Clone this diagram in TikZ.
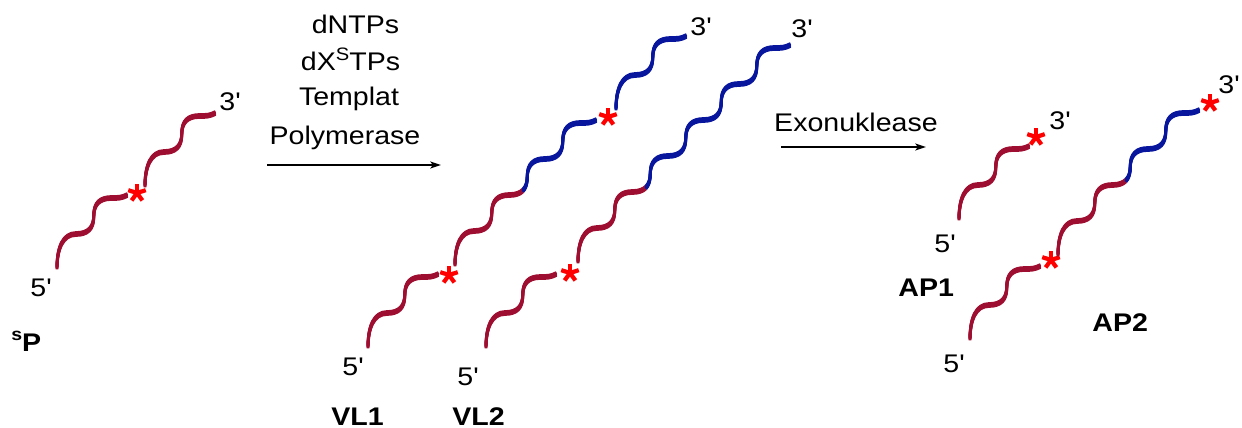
\documentclass[tikz,border=0pt]{standalone}
\usepackage{fontspec}
\newfontfamily\arialf{Liberation Sans}
\usetikzlibrary{arrows.meta}

\definecolor{strandred}{RGB}{158,14,48}
\definecolor{strandblue}{RGB}{8,22,158}
\definecolor{markred}{RGB}{255,0,0}

% pieces of the helical ribbon (units: px, y pointing down)
\newcommand\stFive{.. controls +(0,-20) and +(-13,0) .. ++(19,-34)}      % 5' tail up to a horizontal
\newcommand\stRight{.. controls +(12,0) and +(0,12) .. ++(17.75,-18)}    % horizontal -> vertical
\newcommand\stUp{.. controls +(0,-12) and +(-12,0) .. ++(17.75,-18)}     % vertical -> horizontal
\newcommand\stRa{.. controls +(6,0) and +(-2.9375,3) .. ++(13.375,-4.5)} % horizontal -> corner
\newcommand\stRb{.. controls +(2.9375,-3) and +(0,6) .. ++(4.375,-13.5)} % corner -> vertical
\newcommand\stEnd{.. controls +(7,0) and +(-6,3) .. ++(16,-3)}           % horizontal -> free end

% a twisted ribbon: the same curve stacked with small vertical offsets
\newcommand\ribbon[2]{%
  \foreach \s in {-1.4,-0.7,0,0.7,1.4}{\draw[ribbonline,#1,yshift=\s*0.5pt] #2;}}

\newcommand\wide[1]{\scalebox{1.12}[1]{#1}}

\begin{document}
\begin{tikzpicture}[x=0.5pt,y=-0.5pt,
  ribbonline/.style={line width=1.45pt},
  txt/.style={inner sep=0pt, font=\arialf\fontsize{12.75pt}{15pt}\selectfont},
  btxt/.style={inner sep=0pt, font=\arialf\bfseries\fontsize{12.75pt}{15pt}\selectfont},
  rxn/.style={line width=0.8pt, -{Stealth[length=5.3pt,width=3.4pt,inset=1.2pt]}},
  astk/.pic={\foreach \a in {-90,-18,-162,54,126}
      \draw[markred,line width=2.1pt] (0,0) -- (\a:9.2);}
]
\useasboundingbox (0,0) rectangle (1242,428);

% ---------- primer sP ----------
\ribbon{strandred}{(57,268) \stFive \stRight\stUp \stEnd}
\pic at (137,193) {astk};
\ribbon{strandred}{(145,186) \stFive \stRight\stUp \stEnd}
\node[txt,anchor=base west] (sp3) at (219,110) {\wide{3'}};
\node[txt,anchor=base west] (sp5) at (30,296) {\wide{5'}};
\node[btxt,anchor=base west] (sp) at (11,351)
  {\wide{\raisebox{5.3pt}{\fontsize{8.7pt}{9pt}\selectfont s}P}};

% ---------- first reaction ----------
\node[txt,anchor=base] (c1) at (355.5,33) {\wide{dNTPs}};
\node[txt,anchor=base] (c2) at (350.5,70)
  {\wide{dX\raisebox{5pt}{\fontsize{9pt}{10pt}\selectfont S}TPs}};
\node[txt,anchor=base] (c3) at (349,105) {\wide{Templat}};
\node[txt,anchor=base] (c4) at (345,144) {\wide{Polymerase}};
\coordinate (r1a) at (267,165);
\coordinate (r1b) at (441,165);
\draw[rxn] (r1a) -- (r1b);

% ---------- VL1 ----------
\ribbon{strandred}{(368,347) \stFive \stRight\stUp \stEnd}
\pic at (449,275) {astk};
\ribbon{strandred}{(455,265) \stFive \stRight\stUp \stRa}
\ribbon{strandblue}{(522.875,190.5) \stRb \stUp \stRight\stUp \stEnd}
\pic at (608,117) {astk};
\ribbon{strandblue}{(616,109) \stFive \stRight\stUp \stEnd}
\node[txt,anchor=base west] (vl15) at (342,375) {\wide{5'}};
\node[txt,anchor=base west] (vl13) at (690,35) {\wide{3'}};
\node[btxt,anchor=base west] (vl1) at (331,425) {\wide{VL1}};

% ---------- VL2 ----------
\ribbon{strandred}{(486,347) \stFive \stRight\stUp \stEnd}
\pic at (570,273) {astk};
\ribbon{strandred}{(578,262) \stFive \stRight\stUp \stRa}
\ribbon{strandblue}{(645.875,187.5) \stRb \stUp \stRight\stUp \stRight\stUp \stRight\stUp \stEnd}
\node[txt,anchor=base west] (vl25) at (457,385) {\wide{5'}};
\node[txt,anchor=base west] (vl23) at (791,37) {\wide{3'}};
\node[btxt,anchor=base west] (vl2) at (452,425) {\wide{VL2}};

% ---------- second reaction ----------
\node[txt,anchor=base] (c5) at (856,131) {\wide{Exonuklease}};
\coordinate (r2a) at (781,147);
\coordinate (r2b) at (926,147);
\draw[rxn] (r2a) -- (r2b);

% ---------- AP1 ----------
\ribbon{strandred}{(959,219) \stFive \stRight\stUp \stEnd}
\pic at (1036,137) {astk};
\node[txt,anchor=base west] (ap13) at (1049,129) {\wide{3'}};
\node[txt,anchor=base west] (ap15) at (934,252) {\wide{5'}};
\node[btxt,anchor=base west] (ap1) at (898,296) {\wide{AP1}};

% ---------- AP2 ----------
\ribbon{strandred}{(970,339) \stFive \stRight\stUp \stEnd}
\pic at (1051,260) {astk};
\ribbon{strandred}{(1058,255) \stFive \stRight\stUp \stRa}
\ribbon{strandblue}{(1125.875,180.5) \stRb \stUp \stRight\stUp \stEnd}
\pic at (1210,103) {astk};
\node[txt,anchor=base west] (ap23) at (1218,93) {\wide{3'}};
\node[txt,anchor=base west] (ap25) at (943,372) {\wide{5'}};
\node[btxt,anchor=base west] (ap2) at (1092,331) {\wide{AP2}};
\end{tikzpicture}
\end{document}
